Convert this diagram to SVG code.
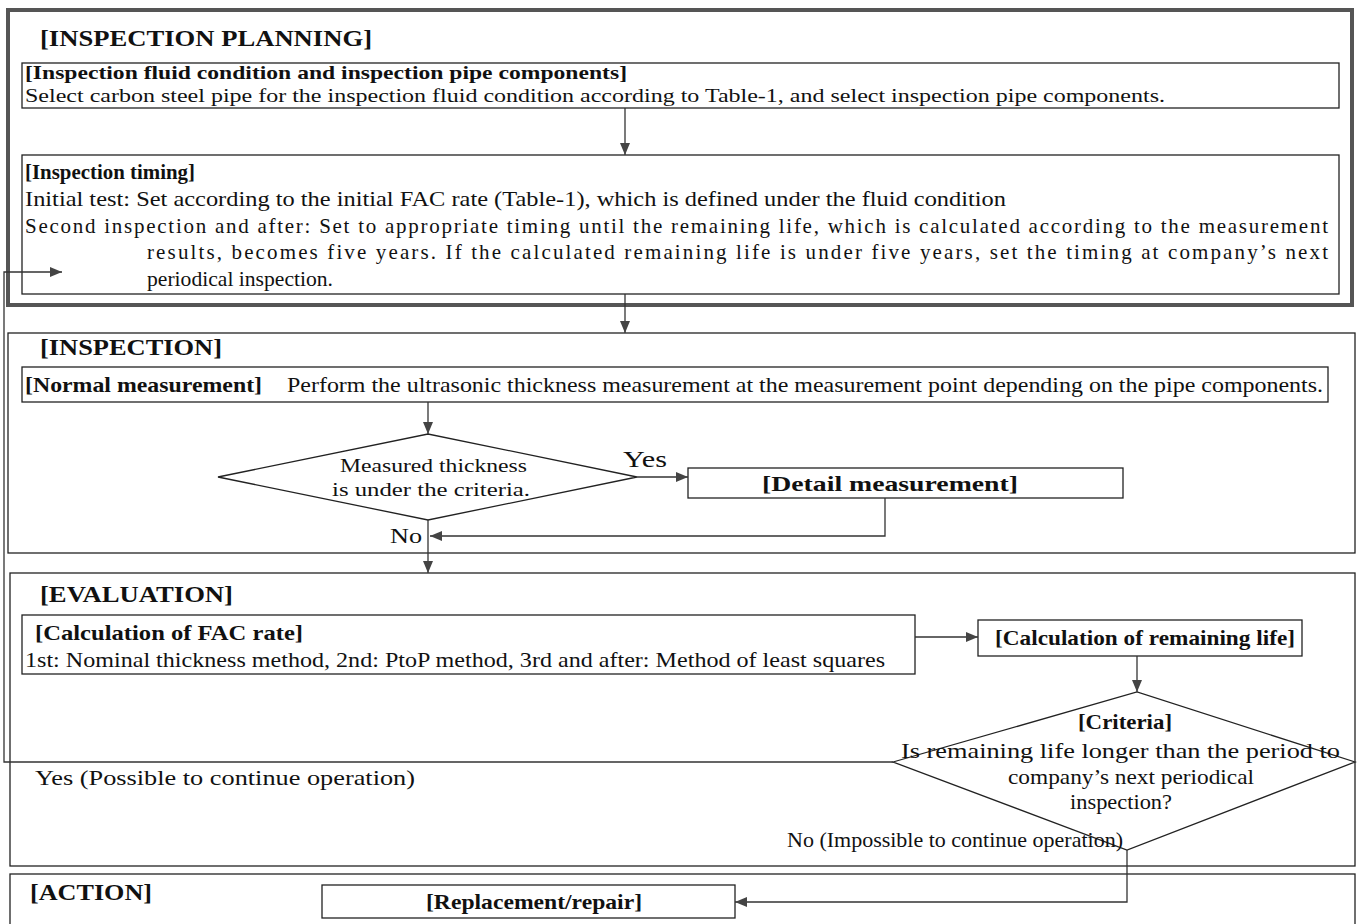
<svg xmlns="http://www.w3.org/2000/svg" width="1357" height="924" viewBox="0 0 1357 924">
<defs>
<marker id="ah" viewBox="0 0 12 10" refX="12" refY="5" markerWidth="12" markerHeight="10" markerUnits="userSpaceOnUse" orient="auto">
<path d="M0,0 L12,5 L0,10 Z" fill="#444"/>
</marker>
<style>
.t{font-family:"Liberation Serif","Times New Roman",serif;fill:#111}
.b{font-weight:bold}
.h{font-size:23px;font-weight:bold}
.n{font-size:21px}
.s{font-size:19px}
.bx{fill:#fff;stroke:#222;stroke-width:1.3}
.fr{fill:none;stroke:#222;stroke-width:1.3}
.dfr{fill:none;stroke:#555;stroke-width:4}
.c{fill:none;stroke:#333;stroke-width:1.3}
</style>
</defs>
<rect width="1357" height="924" fill="#fff"/>

<g id="planning">
<rect class="dfr" x="8" y="10" width="1344" height="295"/>
<text class="t h" x="40" y="46" textLength="332" lengthAdjust="spacingAndGlyphs">[INSPECTION PLANNING]</text>
</g>
<g id="fluid">
<rect class="bx" x="22" y="63" width="1317" height="45"/>
<text class="t s b" x="25" y="79" textLength="602" lengthAdjust="spacingAndGlyphs">[Inspection fluid condition and inspection pipe components]</text>
<text class="t s" x="25" y="102" textLength="1140" lengthAdjust="spacingAndGlyphs">Select carbon steel pipe for the inspection fluid condition according to Table-1, and select inspection pipe components.</text>
</g>
<g id="timing">
<rect class="bx" x="22" y="155" width="1317" height="139"/>
<text class="t n b" x="25" y="179" textLength="170" lengthAdjust="spacingAndGlyphs">[Inspection timing]</text>
<text class="t n" x="25" y="206" textLength="981" lengthAdjust="spacingAndGlyphs">Initial test: Set according to the initial FAC rate (Table-1), which is defined under the fluid condition</text>
<text class="t n" x="25" y="233" textLength="1303" lengthAdjust="spacing">Second inspection and after: Set to appropriate timing until the remaining life, which is calculated according to the measurement</text>
<text class="t n" x="147" y="259" textLength="1181" lengthAdjust="spacing">results, becomes five years. If the calculated remaining life is under five years, set the timing at company’s next</text>
<text class="t n" x="147" y="286" textLength="186" lengthAdjust="spacingAndGlyphs">periodical inspection.</text>
</g>

<g id="inspection">
<rect class="fr" x="8" y="333" width="1347" height="220"/>
<text class="t h" x="40" y="355" textLength="182" lengthAdjust="spacingAndGlyphs">[INSPECTION]</text>
</g>
<g id="normal">
<rect class="bx" x="22" y="367" width="1306" height="35"/>
<text class="t n b" x="25" y="392" textLength="237" lengthAdjust="spacingAndGlyphs">[Normal measurement]</text>
<text class="t n" x="287" y="392" textLength="1036" lengthAdjust="spacingAndGlyphs">Perform the ultrasonic thickness measurement at the measurement point depending on the pipe components.</text>
</g>
<g id="thickness">
<polygon class="bx" points="218,477 428,434 637,477 428,520"/>
<text class="t s" x="340" y="472" textLength="187" lengthAdjust="spacingAndGlyphs">Measured thickness</text>
<text class="t s" x="332" y="496" textLength="198" lengthAdjust="spacingAndGlyphs">is under the criteria.</text>
</g>
<g id="detail">
<rect class="bx" x="688" y="468" width="435" height="30"/>
<text class="t n b" x="762" y="491" textLength="256" lengthAdjust="spacingAndGlyphs">[Detail measurement]</text>
</g>

<g id="evaluation">
<rect class="fr" x="10" y="573" width="1345" height="293"/>
<text class="t h" x="40" y="602" textLength="193" lengthAdjust="spacingAndGlyphs">[EVALUATION]</text>
</g>
<g id="fac">
<rect class="bx" x="22" y="615" width="893" height="59"/>
<text class="t n b" x="35" y="640" textLength="268" lengthAdjust="spacingAndGlyphs">[Calculation of FAC rate]</text>
<text class="t n" x="25" y="667" textLength="860" lengthAdjust="spacingAndGlyphs">1st: Nominal thickness method, 2nd: PtoP method, 3rd and after: Method of least squares</text>
</g>
<g id="remaining">
<rect class="bx" x="978" y="620" width="324" height="36"/>
<text class="t n b" x="995" y="645" textLength="300" lengthAdjust="spacingAndGlyphs">[Calculation of remaining life]</text>
</g>
<g id="criteria">
<polygon class="bx" points="893,762 1137,692 1355,762 1127,850"/>
<text class="t n b" x="1078" y="729" textLength="94" lengthAdjust="spacingAndGlyphs">[Criteria]</text>
<text class="t n" x="901" y="758" textLength="439" lengthAdjust="spacingAndGlyphs">Is remaining life longer than the period to</text>
<text class="t n" x="1008" y="784" textLength="246" lengthAdjust="spacingAndGlyphs">company’s next periodical</text>
<text class="t n" x="1070" y="809" textLength="102" lengthAdjust="spacingAndGlyphs">inspection?</text>
</g>

<g id="action">
<rect class="fr" x="10" y="874" width="1345" height="60"/>
<text class="t h" x="30" y="900" textLength="122" lengthAdjust="spacingAndGlyphs">[ACTION]</text>
</g>
<g id="replace">
<rect class="bx" x="322" y="885" width="413" height="33"/>
<text class="t n b" x="426" y="909" textLength="216" lengthAdjust="spacingAndGlyphs">[Replacement/repair]</text>
</g>

<g id="connectors">
<line class="c" x1="625" y1="108" x2="625" y2="155" marker-end="url(#ah)"/>
<line class="c" x1="625" y1="294" x2="625" y2="333" marker-end="url(#ah)"/>
<line class="c" x1="428" y1="402" x2="428" y2="434" marker-end="url(#ah)"/>
<line class="c" x1="637" y1="477" x2="688" y2="477" marker-end="url(#ah)"/>
<polyline class="c" points="885,498 885,536 430,536" marker-end="url(#ah)"/>
<line class="c" x1="428" y1="520" x2="428" y2="573" marker-end="url(#ah)"/>
<line class="c" x1="915" y1="637" x2="978" y2="637" marker-end="url(#ah)"/>
<line class="c" x1="1137" y1="656" x2="1137" y2="692" marker-end="url(#ah)"/>
<polyline class="c" points="893,762 4,762 4,272 62,272" marker-end="url(#ah)"/>
<polyline class="c" points="1127,850 1127,902 735,902" marker-end="url(#ah)"/>
<text class="t" x="623" y="467" font-size="24" textLength="44" lengthAdjust="spacingAndGlyphs">Yes</text>
<text class="t" x="390" y="543" font-size="21" textLength="32" lengthAdjust="spacingAndGlyphs">No</text>
<text class="t" x="35" y="785" font-size="22" textLength="380" lengthAdjust="spacingAndGlyphs">Yes (Possible to continue operation)</text>
<text class="t" x="787" y="847" font-size="22" textLength="336" lengthAdjust="spacingAndGlyphs">No (Impossible to continue operation)</text>
</g>
</svg>
